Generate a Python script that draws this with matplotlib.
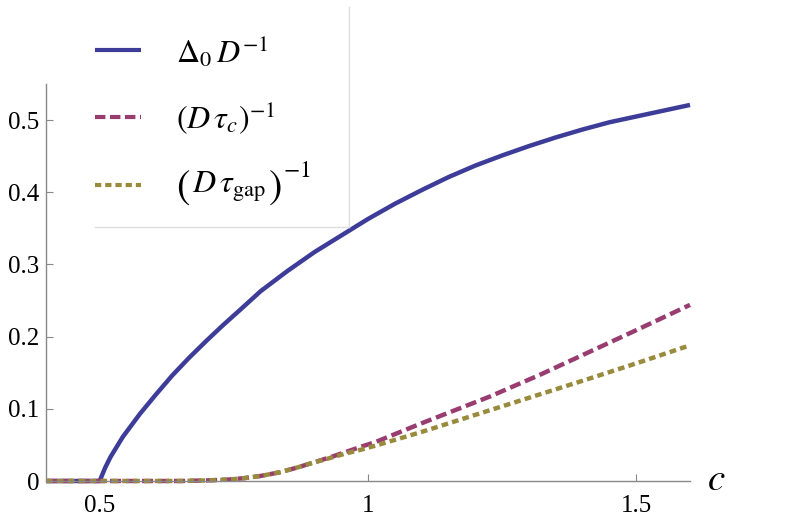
import matplotlib
matplotlib.use("Agg")
import matplotlib.pyplot as plt
from matplotlib.lines import Line2D

plt.rcParams['font.family'] = 'serif'
plt.rcParams['font.serif'] = ['Liberation Serif', 'DejaVu Serif']
plt.rcParams['mathtext.fontset'] = 'stix'

#######################################################
# Data
c_gap = [0.4, 0.5, 0.51, 0.52, 0.543, 0.575, 0.605, 0.635, 0.667, 0.70, 0.73,
         0.763, 0.80, 0.85, 0.90, 0.95, 1.0, 1.05, 1.1, 1.15, 1.2, 1.25, 1.3,
         1.35, 1.4, 1.45, 1.5, 1.55, 1.6]
delta0 = [0, 0, 0.018, 0.033, 0.061, 0.093, 0.120, 0.146, 0.171, 0.195, 0.216,
          0.238, 0.263, 0.291, 0.317, 0.340, 0.363, 0.384, 0.403, 0.421, 0.437,
          0.451, 0.464, 0.476, 0.487, 0.497, 0.505, 0.513, 0.521]

c_tau = [0.4, 0.65, 0.70, 0.74, 0.77, 0.80, 0.835, 0.865, 0.896, 0.93, 0.958,
         0.985, 1.014, 1.1, 1.227, 1.32, 1.413, 1.5, 1.6]
tau_c = [0, 0, 0.0008, 0.002, 0.004, 0.007, 0.012, 0.018, 0.025, 0.033, 0.040,
         0.047, 0.054, 0.080, 0.117, 0.147, 0.179, 0.209, 0.244]
tau_gap = [0, 0, 0.0008, 0.002, 0.004, 0.007, 0.012, 0.018, 0.025, 0.032, 0.038,
           0.043, 0.049, 0.068, 0.098, 0.120, 0.142, 0.163, 0.188]

labels = [r'$\Delta_0\,D^{-1}$', r'$(D\,\tau_c)^{-1}$', r'$D\,\tau_{\rm gap}$']
colors = [(0.24, 0.24, 0.6), (0.6, 0.24, 0.442), (0.6, 0.547, 0.24)]
dashes = [None, (2.5, 1.1), (1.5, 0.95)]

xticks = [0.5, 1, 1.5]
xticklabels = ['0.5', '1', '1.5']
yticks = [0, 0.1, 0.2, 0.3, 0.4, 0.5]
yticklabels = ['0', '0.1', '0.2', '0.3', '0.4', '0.5']

W, H = 789, 523
fig = plt.figure(figsize=(W / 100, H / 100), dpi=100)
ax = fig.add_axes([46 / W, 1 - 481 / H, (690 - 46) / W, (481 - 84) / H])

lw = 3.2
ax.plot(c_gap, delta0, color=colors[0], lw=lw, clip_on=False, solid_capstyle='butt')
ax.plot(c_tau, tau_c, color=colors[1], lw=lw, dashes=dashes[1], clip_on=False,
        dash_capstyle='butt')
ax.plot(c_tau, tau_gap, color=colors[2], lw=lw, dashes=dashes[2], clip_on=False,
        dash_capstyle='butt')

ax.set_xlim(0.4, 1.6)
ax.set_ylim(0, 0.55)
for s in ['top', 'right']:
    ax.spines[s].set_visible(False)
for s in ['left', 'bottom']:
    ax.spines[s].set_color('#888888')
    ax.spines[s].set_linewidth(1.0)
ax.set_xticks(xticks)
ax.set_xticklabels(xticklabels)
ax.set_yticks(yticks)
ax.set_yticklabels(yticklabels)
ax.tick_params(direction='in', length=5, color='#888888', labelsize=18)
ax.tick_params(axis='x', pad=10)
ax.tick_params(axis='y', pad=5)

fig.text(707 / W, 1 - 481 / H, r'$c$', fontsize=28, ha='left', va='center')

# legend drawn by hand
fig.add_artist(Line2D([95 / W, 349 / W], [1 - 227 / H, 1 - 227 / H],
                      transform=fig.transFigure, color='#dddddd', lw=1))
fig.add_artist(Line2D([349 / W, 349 / W], [1 - 7 / H, 1 - 227 / H],
                      transform=fig.transFigure, color='#dddddd', lw=1))
line_y = [50, 117, 185]
base_y = [63, 128, 193]
for i in range(3):
    ln = Line2D([95 / W, 141 / W], [1 - line_y[i] / H] * 2, transform=fig.transFigure,
                color=colors[i], lw=3.0, solid_capstyle='butt', dash_capstyle='butt')
    if dashes[i] is not None:
        ln.set_dashes(dashes[i])
    fig.add_artist(ln)

fig.text(176 / W, 1 - base_y[0] / H, labels[0], fontsize=23, ha='left', va='baseline')
fig.text(176 / W, 1 - base_y[1] / H, labels[1], fontsize=23, ha='left', va='baseline')

# third label with taller brackets
renderer = fig.canvas.get_renderer()
lp = fig.text(176 / W, 1 - 188 / H, r'$($', fontsize=29, ha='left', va='center')
x = lp.get_window_extent(renderer).x1 + 2
body = fig.text(x / W, 1 - base_y[2] / H, labels[2], fontsize=23, ha='left', va='baseline')
x = body.get_window_extent(renderer).x1 + 2
rp = fig.text(x / W, 1 - 188 / H, r'$)$', fontsize=29, ha='left', va='center')
x = rp.get_window_extent(renderer).x1 + 1
fig.text(x / W, 1 - 177 / H, r'$-1$', fontsize=17, ha='left', va='baseline')

plt.savefig('out.png', dpi=100)
